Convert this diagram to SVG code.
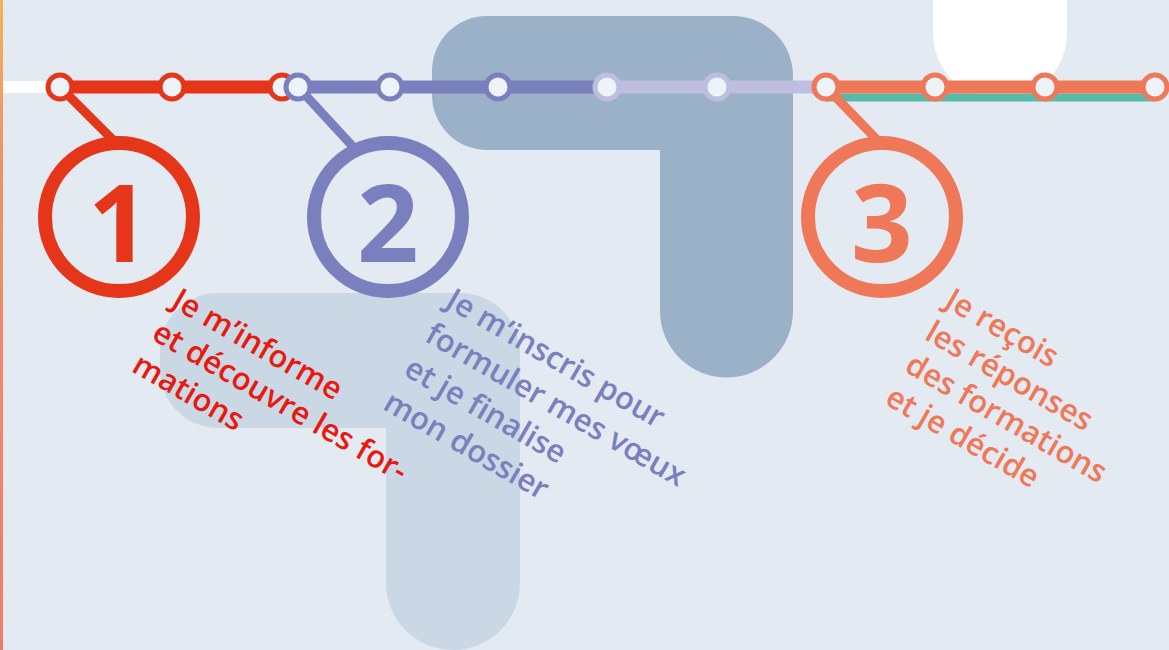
<svg xmlns="http://www.w3.org/2000/svg" width="1169" height="650" viewBox="0 0 1169 650">
<defs>
<linearGradient id="stripe" x1="0" y1="0" x2="0" y2="1">
<stop offset="0" stop-color="#F2B25A"/>
<stop offset="0.25" stop-color="#F19166"/>
<stop offset="1" stop-color="#F07B6B"/>
</linearGradient>
<style>
.st{stroke-width:5;fill:#EEF3F7}
.lbl{font-family:"Open Sans","Noto Sans","Liberation Sans",sans-serif;font-weight:600;font-size:31px}
.num{font-family:"Open Sans","Liberation Sans",sans-serif;font-weight:700;font-size:108px;text-anchor:middle}
.big{fill:none;stroke-width:14}
</style>
</defs>
<rect width="1169" height="650" fill="#E3EAF2"/>
<rect x="0" y="0" width="3" height="650" fill="url(#stripe)"/>
<g id="shapes">
<path d="M487,16 H733 A60 60 0 0 1 793 76 V311 A66.5 66.5 0 0 1 660 311 V150 H487 A55 55 0 0 1 432 95 V71 A55 55 0 0 1 487 16 Z" fill="#9AB1C8"/>
<path d="M218,293 H460 A60 60 0 0 1 520 353 V583 A67 67 0 0 1 386 583 V428 H218 A58 58 0 0 1 160 370 V351 A58 58 0 0 1 218 293 Z" fill="#CAD8E5"/>
<path d="M933,0 H1067 V33 A67 67 0 0 1 933 33 Z" fill="#FFFFFF"/>
<rect x="3" y="81" width="53" height="12" fill="#FFFFFF"/>
</g>
<g id="connectors">
<line x1="60" y1="87" x2="282" y2="87" stroke="#E6361A" stroke-width="13"/>
<line x1="298" y1="87" x2="607" y2="87" stroke="#7A80BE" stroke-width="13"/>
<line x1="607" y1="87" x2="826" y2="87" stroke="#BDBEE0" stroke-width="13"/>
<line x1="826" y1="97.5" x2="1155" y2="97.5" stroke="#58BBA9" stroke-width="8"/>
<line x1="826" y1="87" x2="1155" y2="87" stroke="#EF7858" stroke-width="13"/>
<line x1="60" y1="87" x2="118" y2="145" stroke="#E6361A" stroke-width="9"/>
<line x1="298" y1="87" x2="356" y2="150" stroke="#7A80BE" stroke-width="9"/>
<line x1="826" y1="87" x2="882" y2="145" stroke="#EF7858" stroke-width="9"/>
</g>
<g id="stations">
<circle cx="60" cy="87" r="12" class="st" stroke="#E6361A"/>
<circle cx="172" cy="87" r="12" class="st" stroke="#E6361A"/>
<circle cx="282" cy="87" r="12" class="st" stroke="#E6361A"/>
<circle cx="298" cy="87" r="12" class="st" stroke="#7A80BE"/>
<circle cx="390" cy="87" r="12" class="st" stroke="#7A80BE"/>
<circle cx="498" cy="87" r="12" class="st" stroke="#7A80BE"/>
<circle cx="607" cy="87" r="12" class="st" stroke="#BDBEE0"/>
<circle cx="717" cy="87" r="12" class="st" stroke="#BDBEE0"/>
<circle cx="826" cy="87" r="12" class="st" stroke="#EF7858"/>
<circle cx="935" cy="87" r="12" class="st" stroke="#EF7858"/>
<circle cx="1045" cy="87" r="12" class="st" stroke="#EF7858"/>
<circle cx="1155" cy="87" r="12" class="st" stroke="#EF7858"/>
</g>
<g id="step1">
<circle cx="119" cy="217" r="74" class="big" stroke="#E6361A"/>
<text x="119" y="262" class="num" fill="#E6361A">1</text>
<text class="lbl" fill="#E8190F" transform="translate(170,306) rotate(30)"><tspan x="0" y="0">Je m’informe</tspan><tspan x="-1" y="38">et découvre les for-</tspan><tspan x="-2" y="76">mations</tspan></text>
</g>
<g id="step2">
<circle cx="388" cy="217" r="74" class="big" stroke="#7A80BE"/>
<text x="388" y="262" class="num" fill="#7A80BE">2</text>
<text class="lbl" fill="#7A80BE" transform="translate(444,306) rotate(30)"><tspan x="0" y="0">Je m’inscris pour</tspan><tspan x="-1" y="40">formuler mes vœux</tspan><tspan x="-2" y="80">et je finalise</tspan><tspan x="-3" y="120">mon dossier</tspan></text>
</g>
<g id="step3">
<circle cx="882" cy="217" r="74" class="big" stroke="#EF7858"/>
<text x="882" y="262" class="num" fill="#EF7858">3</text>
<text class="lbl" fill="#EF7858" transform="translate(943,306) rotate(30)"><tspan x="0" y="0">Je reçois</tspan><tspan x="-1" y="38">les réponses</tspan><tspan x="-2" y="76">des formations</tspan><tspan x="-3" y="114">et je décide</tspan></text>
</g>
</svg>
